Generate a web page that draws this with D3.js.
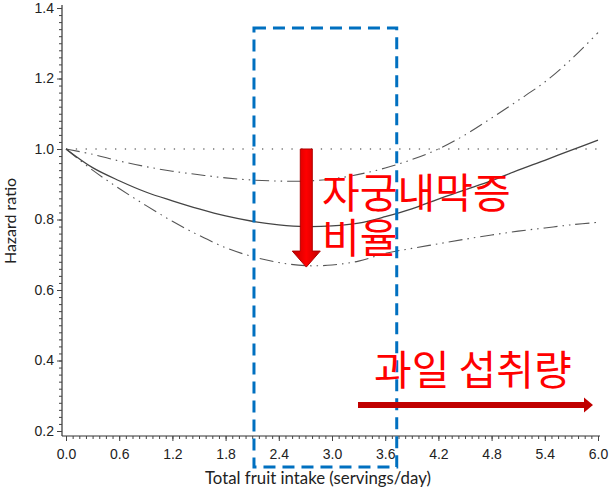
<!DOCTYPE html>
<html><head><meta charset="utf-8">
<script src="https://cdn.jsdelivr.net/npm/d3@7"></script>
<style>body{margin:0;background:#fff}svg{display:block}</style>
</head><body>
<svg id="c" width="610" height="493"></svg>
<script>
// ---- data ----
const xs      = [0,0.3,0.6,0.9,1.2,1.5,1.8,2.1,2.4,2.7,3.0,3.3,3.6,3.9,4.2,4.5,4.8,5.1,5.4,5.7,6.0];
const hr      = [1.0,0.947,0.910,0.878,0.853,0.830,0.810,0.795,0.785,0.780,0.782,0.790,0.808,0.830,0.858,0.884,0.910,0.940,0.968,0.997,1.025];
const upper   = [1.0,0.985,0.966,0.950,0.937,0.927,0.918,0.912,0.909,0.909,0.915,0.928,0.946,0.970,1.000,1.040,1.088,1.138,1.190,1.255,1.330];
const lower   = [1.0,0.940,0.888,0.840,0.795,0.755,0.720,0.695,0.678,0.669,0.671,0.682,0.704,0.718,0.731,0.744,0.756,0.767,0.776,0.785,0.792];
const xTicks  = [0.0,0.6,1.2,1.8,2.4,3.0,3.6,4.2,4.8,5.4,6.0];
const yTicks  = [0.2,0.4,0.6,0.8,1.0,1.2,1.4];
const xTitle  = "Total fruit intake (servings/day)";
const yTitle  = "Hazard ratio";
const noteDown = ["자궁내막증","비율"];
const noteRight = "과일 섭취량";
const refValue = 1.0;

const svg = d3.select("#c");
const x = d3.scaleLinear().domain([0,6]).range([66,598]);
const y = d3.scaleLinear().domain([0.2,1.4]).range([431,8]);

// axis lines
svg.append("line").attr("x1",62).attr("x2",62).attr("y1",5).attr("y2",436).attr("stroke","#333").attr("stroke-width",1.2);
svg.append("line").attr("x1",62).attr("x2",600).attr("y1",436).attr("y2",436).attr("stroke","#333").attr("stroke-width",1.2);

// y axis ticks
const yMinor = d3.range(0.2,1.4001,0.02);
const gyMin = svg.append("g").attr("transform","translate(62,0)")
  .call(d3.axisLeft(y).tickValues(yMinor).tickSize(3).tickFormat(""));
const gy = svg.append("g").attr("transform","translate(62,0)")
  .call(d3.axisLeft(y).tickValues(yTicks).tickSize(5).tickPadding(3).tickFormat(d3.format(".1f")));
[gyMin,gy].forEach(g=>{g.select(".domain").remove();g.selectAll("line").attr("stroke","#444");});
gy.selectAll("text").attr("font-family","Liberation Sans, Arial, sans-serif").attr("font-size",14).attr("fill","#222");

// x axis ticks
const xMinor = d3.range(0,6.0001,0.075);
const gxMin = svg.append("g").attr("transform","translate(0,436)")
  .call(d3.axisBottom(x).tickValues(xMinor).tickSize(3).tickFormat(""));
const gx = svg.append("g").attr("transform","translate(0,436)")
  .call(d3.axisBottom(x).tickValues(xTicks).tickSize(5).tickPadding(8).tickFormat(d3.format(".1f")));
[gxMin,gx].forEach(g=>{g.select(".domain").remove();g.selectAll("line").attr("stroke","#444");});
gx.selectAll("text").attr("font-family","Liberation Sans, Arial, sans-serif").attr("font-size",14).attr("fill","#222");

// titles
svg.append("text").attr("x",205).attr("y",484).attr("font-family","Lato, 'Open Sans', sans-serif").attr("font-size",16.8).attr("fill","#222").text(xTitle);
svg.append("text").attr("transform","translate(16,221) rotate(-90)").attr("text-anchor","middle")
  .attr("font-family","Lato, 'Open Sans', sans-serif").attr("font-size",16).attr("fill","#222").text(yTitle);

// reference line
svg.append("line").attr("x1",x(0)).attr("x2",x(6)).attr("y1",y(refValue)).attr("y2",y(refValue))
  .attr("stroke","#777").attr("stroke-width",1.3).attr("stroke-dasharray","1.3,8.5");

// curves
const line = d3.line().curve(d3.curveCatmullRom).x((d,i)=>x(xs[i])).y(d=>y(d));
svg.append("path").attr("d",line(upper)).attr("fill","none").attr("stroke","#555").attr("stroke-width",1.1).attr("stroke-dasharray","14,5,1.5,5,1.5,5");
svg.append("path").attr("d",line(lower)).attr("fill","none").attr("stroke","#555").attr("stroke-width",1.1).attr("stroke-dasharray","14,5,1.5,5,1.5,5");
svg.append("path").attr("d",line(hr)).attr("fill","none").attr("stroke","#444").attr("stroke-width",1.3);

// blue dashed box (≈2.1 – 3.7 servings)
const bx0 = x(2.12), bx1 = x(3.73);
svg.append("rect").attr("x",bx0).attr("y",28).attr("width",bx1-bx0).attr("height",439)
  .attr("fill","none").attr("stroke","#0070C0").attr("stroke-width",3).attr("stroke-dasharray","12,7");

// red gradient
const defs = svg.append("defs");
const gr = defs.append("linearGradient").attr("id","rg").attr("x1","0").attr("x2","1").attr("y1","0").attr("y2","0");
gr.append("stop").attr("offset","0").attr("stop-color","#c00000");
gr.append("stop").attr("offset","0.5").attr("stop-color","#ff0000");
gr.append("stop").attr("offset","1").attr("stop-color","#c00000");

// down arrow (from HR=1.0 to ~0.67 at x≈2.7)
const ax = x(2.71), aTop = y(refValue), aTip = y(0.665);
svg.append("path").attr("d",`M${ax-6},${aTop} L${ax+6},${aTop} L${ax+6},${aTip-16} L${ax+14},${aTip-16} L${ax},${aTip} L${ax-14},${aTip-16} L${ax-6},${aTip-16} Z`)
  .attr("fill","url(#rg)").attr("stroke","#b00000").attr("stroke-width",1);

// right arrow
svg.append("path").attr("d","M358,402 L584,402 L584,397.5 L593,405 L584,412.5 L584,408 L358,408 Z").attr("fill","#c00000");

// Korean notes
const kf = "'Noto Sans CJK KR', sans-serif";
const nd = svg.append("text").attr("x",322).attr("y",208).attr("font-family",kf).attr("font-size",41).attr("fill","#ff0000");
noteDown.forEach((t,i)=>nd.append("tspan").attr("x",322).attr("dy",i===0?0:45).text(t));
svg.append("text").attr("x",374).attr("y",385).attr("font-family",kf).attr("font-size",41).attr("fill","#ff0000").text(noteRight);
</script>
</body></html>
